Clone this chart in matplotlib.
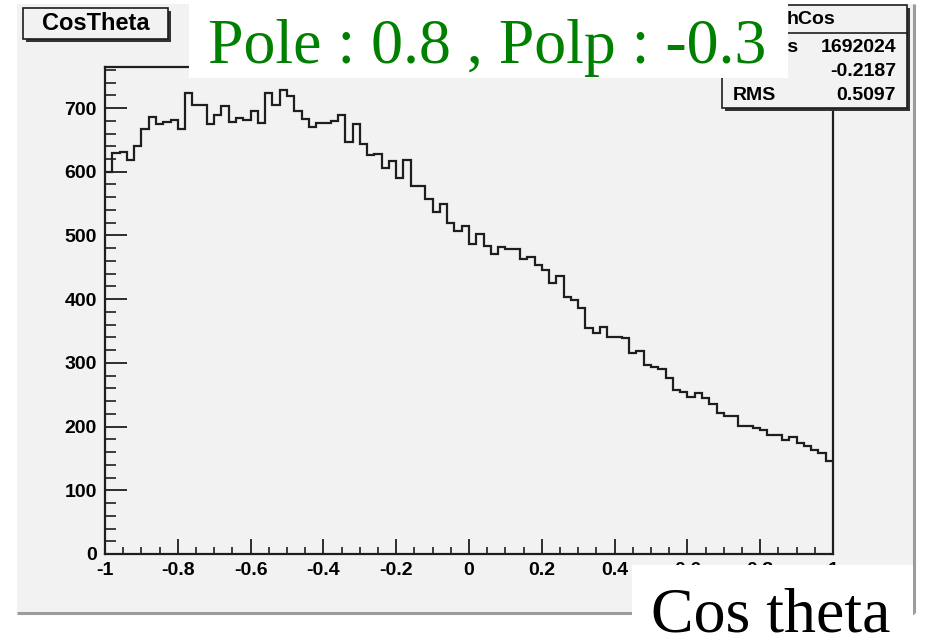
import matplotlib
matplotlib.use("Agg")
import matplotlib.pyplot as plt
import numpy as np
from matplotlib.patches import Rectangle
from matplotlib.ticker import MultipleLocator

# histogram contents, 100 bins over [-1, 1]
counts = [600, 629, 631, 618, 641, 667, 686, 675, 678, 681,
          667, 723, 705, 705, 675, 689, 703, 678, 684, 681,
          696, 677, 723, 705, 728, 719, 696, 682, 671, 677,
          676, 680, 689, 646, 675, 644, 626, 628, 606, 617,
          590, 618, 577, 577, 557, 537, 550, 519, 507, 515,
          487, 502, 483, 471, 482, 478, 478, 463, 466, 454,
          446, 426, 436, 404, 399, 386, 354, 347, 357, 341,
          340, 339, 315, 318, 296, 294, 291, 277, 258, 254,
          247, 252, 245, 236, 221, 217, 217, 201, 201, 197,
          194, 187, 187, 179, 183, 174, 170, 164, 158, 146]
x_lo, x_hi = -1.0, 1.0
x_ticks = [-1, -0.8, -0.6, -0.4, -0.2, 0, 0.2, 0.4, 0.6, 0.8, 1]
x_tick_labels = ['-1', '-0.8', '-0.6', '-0.4', '-0.2', '0', '0.2', '0.4', '0.6', '0.8', '1']
y_ticks = [0, 100, 200, 300, 400, 500, 600, 700]

hist_title = 'CosTheta'
hist_name = 'hCos'
stat_names = ['Entries', 'Mean', 'RMS']
stat_values = ['1692024', '-0.2187', '0.5097']
banner = 'Pole : 0.8 , Polp : -0.3'
x_title = 'Cos theta'

plt.rcParams['font.family'] = ['Liberation Sans', 'DejaVu Sans']
plt.rcParams['font.weight'] = 'bold'

W, H = 925, 640
PAD = '#f2f2f2'
INK = '#1e1e1e'
SERIF = ['Liberation Serif', 'DejaVu Serif']


def rect(x0, y0, x1, y1):
    # pixel box (top-left origin) -> figure fraction
    return [x0 / W, 1 - y1 / H, (x1 - x0) / W, (y1 - y0) / H]


fig = plt.figure(figsize=(W / 100, H / 100), dpi=100, facecolor='white')

# canvas pad behind everything
bg = fig.add_axes([0, 0, 1, 1], zorder=0)
bg.set_xlim(0, W)
bg.set_ylim(H, 0)
bg.axis('off')
bg.add_patch(Rectangle((17, 4), 897, 609, fc=PAD, ec='none'))
bg.plot([17, 914], [613, 613], color='#9c9c9c', lw=2.2, solid_capstyle='butt')
bg.plot([914, 914], [4, 613], color='#9c9c9c', lw=2.2, solid_capstyle='butt')

# the histogram frame
ax = fig.add_axes(rect(105, 67, 833, 554), zorder=1)
ax.set_facecolor(PAD)
edges = np.linspace(x_lo, x_hi, len(counts) + 1)
ax.stairs(counts, edges, color=INK, lw=1.6, baseline=None)
ax.set_xlim(x_lo, x_hi)
ax.set_ylim(0, max(counts) * 1.05)

ax.set_xticks(x_ticks, x_tick_labels)
ax.set_yticks(y_ticks, [str(v) for v in y_ticks])
ax.xaxis.set_minor_locator(MultipleLocator(0.05))
ax.yaxis.set_minor_locator(MultipleLocator(20))
ax.tick_params(axis='x', which='major', direction='in', length=11, width=1.3,
               pad=6, labelsize=14, color=INK)
ax.tick_params(axis='x', which='minor', direction='in', length=5, width=1.2, color=INK)
ax.tick_params(axis='y', which='major', direction='in', length=16, width=1.3,
               pad=6, labelsize=14, color=INK)
ax.tick_params(axis='y', which='minor', direction='in', length=8, width=1.2, color=INK)
for sp in ax.spines.values():
    sp.set_linewidth(1.6)
    sp.set_color(INK)

# boxes and texts drawn on top, in pixel coordinates
fg = fig.add_axes([0, 0, 1, 1], zorder=3)
fg.set_xlim(0, W)
fg.set_ylim(H, 0)
fg.axis('off')
fg.patch.set_alpha(0)

# title box
fg.add_patch(Rectangle((26, 11), 145, 31, fc='#333333', ec='none', zorder=1))
fg.add_patch(Rectangle((23, 8), 145, 31, fc=PAD, ec=INK, lw=1.2, zorder=2))
fg.text(95.5, 24, hist_title, ha='center', va='center', fontsize=17,
        color='black', zorder=3)

# stats box
fg.add_patch(Rectangle((725, 8), 185, 103, fc='#333333', ec='none', zorder=1))
fg.add_patch(Rectangle((722, 5), 185, 103, fc=PAD, ec=INK, lw=1.2, zorder=2))
fg.plot([722, 907], [33, 33], color=INK, lw=1.2, zorder=3)
fg.text(811, 20, hist_name, ha='center', va='center', fontsize=14,
        color='black', zorder=3)
for i, (nm, val) in enumerate(zip(stat_names, stat_values)):
    yy = 47 + i * 24
    fg.text(733, yy, nm, ha='left', va='center', fontsize=14, color='black', zorder=3)
    fg.text(896, yy, val, ha='right', va='center', fontsize=14, color='black', zorder=3)

# white label boxes pasted over the canvas
fg.add_patch(Rectangle((189, 0), 599, 78, fc='white', ec='none', zorder=10))
fg.text(487, 63, banner, ha='center', va='baseline', fontsize=46,
        family=SERIF, fontweight='normal', color='#008000', zorder=11)

fg.add_patch(Rectangle((632, 565), 281, 75, fc='white', ec='none', zorder=10))
fg.text(771, 632, x_title, ha='center', va='baseline', fontsize=46,
        family=SERIF, fontweight='normal', color='black', zorder=11)

fig.savefig('out.png', dpi=100, facecolor='white')
plt.close(fig)
